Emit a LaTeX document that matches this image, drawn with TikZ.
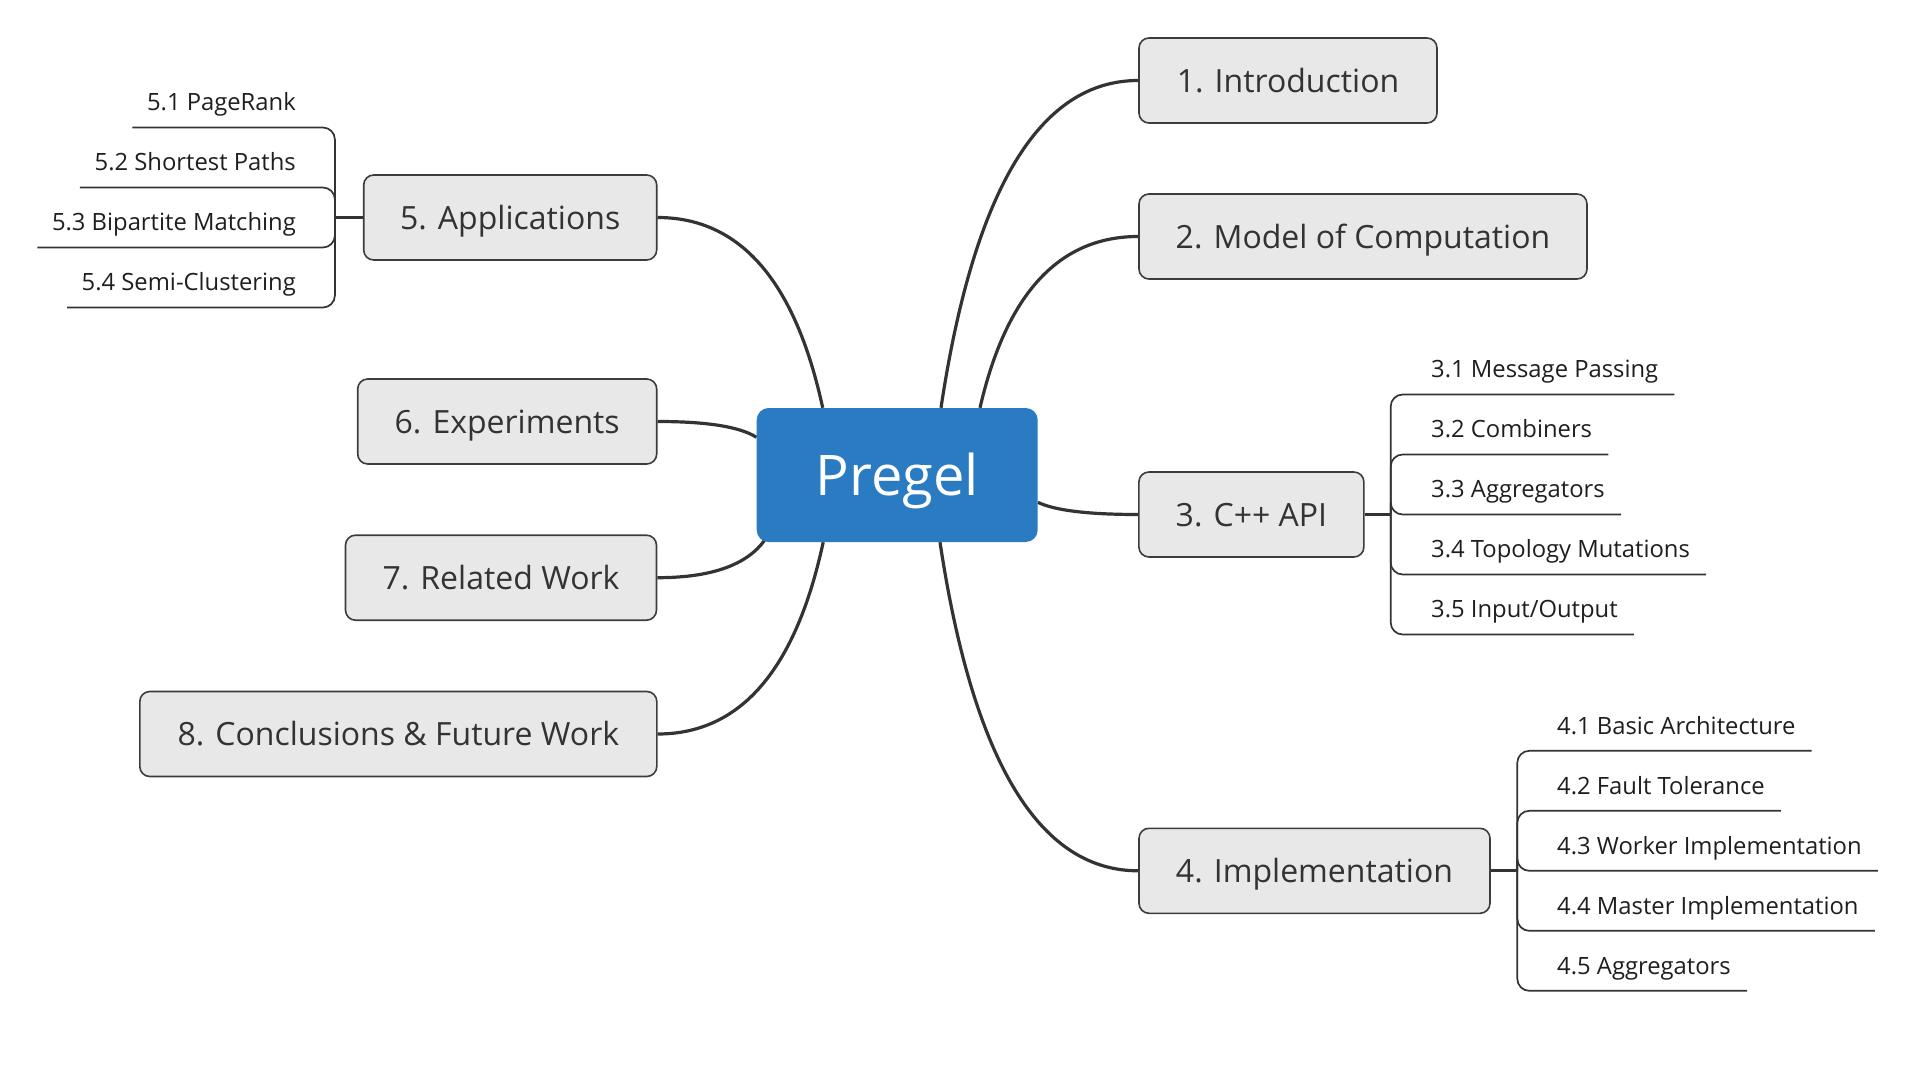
\documentclass[tikz,border=0pt]{standalone}
\usepackage{fontspec}
\setmainfont{Open Sans}
\usetikzlibrary{calc}
\definecolor{boxfill}{RGB}{232,232,232}
\definecolor{boxline}{RGB}{60,60,60}
\definecolor{linec}{RGB}{51,51,51}
\definecolor{pblue}{RGB}{42,123,193}
\definecolor{txtc}{RGB}{51,51,51}
\definecolor{subtxtc}{RGB}{30,30,30}
\pgfdeclarelayer{bg}
\pgfsetlayers{bg,main}
\begin{document}
\begin{tikzpicture}[x=1pt,y=-1pt,
  topic/.style={draw=boxline, fill=boxfill, line width=1.6pt, rounded corners=10pt, inner sep=0pt,
    minimum height=85pt, text=txtc, font=\fontsize{32}{38}\selectfont, text height=23.1pt, text depth=0pt},
  central/.style={fill=pblue, rounded corners=12pt, inner sep=0pt, minimum width=281pt, minimum height=134pt,
    text=white, font=\fontsize{56}{67}\selectfont, text height=40pt, text depth=0pt},
  subtopic/.style={inner sep=0pt, text=subtxtc, font=\fontsize{23.8}{28}\selectfont},
  branch/.style={draw=linec, line width=3.2pt,
    to path={let \p1=(\tikztostart), \p2=(\tikztotarget) in
      .. controls ({\x1+(\x2-\x1)/6},{\y1+2*(\y2-\y1)/3}) and ({(\x1+\x2)/2},{\y2}) .. (\tikztotarget)}},
  stub/.style={draw=linec, line width=2.8pt},
  subline/.style={draw=linec, line width=1.7pt, rounded corners=12pt}]
\useasboundingbox (0,0) rectangle (1907,1075);

% central and main topics
\node[central] (pregel) at (897.2,475) {Pregel};
\node[topic, minimum width=298] (intro) at (1288,80.5) {1. Introduction};
\node[topic, minimum width=448] (model) at (1363,236.5) {2. Model of Computation};
\node[topic, minimum width=225] (cpp) at (1251.4,514.5) {3. C++ API};
\node[topic, minimum width=351] (impl) at (1314.5,870.8) {4. Implementation};
\node[topic, minimum width=293] (apps) at (510.2,217.5) {5. Applications};
\node[topic, minimum width=299] (exp) at (507.2,421.5) {6. Experiments};
\node[topic, minimum width=311] (rel) at (501,577.7) {7. Related Work};
\node[topic, minimum width=517] (concl) at (398.3,734) {8. Conclusions \& Future Work};

% attachment points on the central topic
\coordinate (p1) at ($(pregel.north)+(43.8,0)$);
\coordinate (p2) at ($(pregel.north)+(82.8,0)$);
\coordinate (p3) at ($(pregel.east)+(0,27.3)$);
\coordinate (p4) at ($(pregel.south)+(42.8,0)$);
\coordinate (p5) at ($(pregel.north)+(-74.5,0)$);
\coordinate (p6) at ($(pregel.west)+(0,-37.7)$);
\coordinate (p7) at ($(pregel.south west)+(8.5,-2.5)$);
\coordinate (p8) at ($(pregel.south)+(-74,0)$);

\begin{pgfonlayer}{bg}
\draw[branch] (p1) to (intro.west);
\draw[branch] (p2) to (model.west);
\draw[branch] (p3) to (cpp.west);
\draw[branch] (p4) to (impl.west);
\draw[branch] (p5) to (apps.east);
\draw[branch] (p6) to (exp.east);
\draw[branch] (p7) to (rel.east);
\draw[branch] (p8) to (concl.east);
\end{pgfonlayer}

% hubs
\coordinate (cpphub) at ($(cpp.east)+(26,0)$);
\coordinate (implhub) at ($(impl.east)+(26.5,0)$);
\coordinate (appshub) at ($(apps.west)+(-28,0)$);
\draw[stub] (cpp.east) -- (cpphub);
\draw[stub] (impl.east) -- (implhub);
\draw[stub] (apps.west) -- (appshub);

% subtopics of 3
\node[subtopic, anchor=base west] (s31) at (1431,377.9) {3.1 Message Passing};
\node[subtopic, anchor=base west] (s32) at (1431,437.9) {3.2 Combiners};
\node[subtopic, anchor=base west] (s33) at (1431,497.9) {3.3 Aggregators};
\node[subtopic, anchor=base west] (s34) at (1431,557.9) {3.4 Topology Mutations};
\node[subtopic, anchor=base west] (s35) at (1431,617.9) {3.5 Input/Output};
\foreach \s in {s31,s32,s33,s34,s35}
  \draw[subline] (cpphub) |- ($(\s.base east)+(16,16.6)$);

% subtopics of 4
\node[subtopic, anchor=base west] (s41) at (1557,734.2) {4.1 Basic Architecture};
\node[subtopic, anchor=base west] (s42) at (1557,794.2) {4.2 Fault Tolerance};
\node[subtopic, anchor=base west] (s43) at (1557,854.2) {4.3 Worker Implementation};
\node[subtopic, anchor=base west] (s44) at (1557,914.2) {4.4 Master Implementation};
\node[subtopic, anchor=base west] (s45) at (1557,974.2) {4.5 Aggregators};
\foreach \s in {s41,s42,s43,s44,s45}
  \draw[subline] (implhub) |- ($(\s.base east)+(16,16.6)$);

% subtopics of 5
\node[subtopic, anchor=base east] (s51) at (296,110.9) {5.1 PageRank};
\node[subtopic, anchor=base east] (s52) at (296,170.9) {5.2 Shortest Paths};
\node[subtopic, anchor=base east] (s53) at (296,230.9) {5.3 Bipartite Matching};
\node[subtopic, anchor=base east] (s54) at (296,290.9) {5.4 Semi-Clustering};
\foreach \s in {s51,s52,s53,s54}
  \draw[subline] (appshub) |- ($(\s.base west)+(-14.5,16.6)$);
\end{tikzpicture}
\end{document}
